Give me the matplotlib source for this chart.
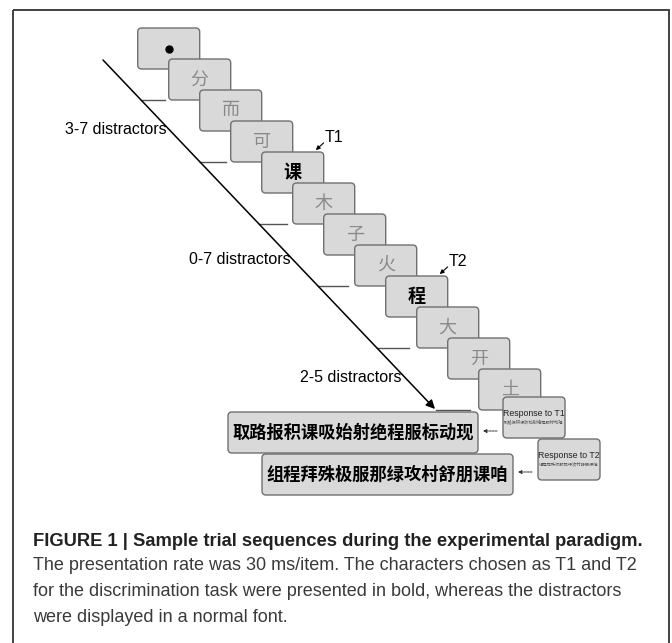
import matplotlib
matplotlib.use('Agg')
import matplotlib.pyplot as plt
from matplotlib.patches import FancyBboxPatch, Rectangle

plt.rcParams['font.family'] = ['Liberation Sans', 'Noto Sans CJK SC', 'DejaVu Sans']

# stream of stimuli shown one after the other
stim_chars = ['•', '分', '而', '可', '课', '木', '子', '火', '程', '大', '开', '土']
targets = {4: 'T1', 8: 'T2'}
distractor_labels = ['3-7 distractors', '0-7 distractors', '2-5 distractors']
response_titles = ['Response to T1', 'Response to T2']
response_lines = ['取路报积课吸始射绝程服标动现', '组程拜殊极服那绿攻村舒朋课咱']
caption_title = 'FIGURE 1 | Sample trial sequences during the experimental paradigm.'
caption_lines = ['The presentation rate was 30 ms/item. The characters chosen as T1 and T2',
                 'for the discrimination task were presented in bold, whereas the distractors',
                 'were displayed in a normal font.']

# layout (pixel units, y downwards)
W, H = 672, 643
x0, y0, step = 137.7, 28, 31
bw, bh = 62, 41
box_fc, box_ec = '#d9d9d9', '#707070'
diag_start, diag_end = (103, 60), (435, 409)
label_rows = [130, 260, 377]
small_boxes = [(503, 397), (538, 439)]
big_boxes = [(228, 412, 250), (262, 454, 251)]

fig = plt.figure(figsize=(W / 100, H / 100), dpi=100)
ax = fig.add_axes([0, 0, 1, 1])
ax.set_xlim(0, W)
ax.set_ylim(H, 0)
ax.axis('off')


def box(x, y, w, h, z):
    p = FancyBboxPatch((x, y), w, h, boxstyle='round,pad=0,rounding_size=4',
                       fc=box_fc, ec=box_ec, lw=1.0, zorder=z)
    ax.add_patch(p)


def diag_x(y):
    (xa, ya), (xb, yb) = diag_start, diag_end
    return xa + (y - ya) * (xb - xa) / (yb - ya)


# outer frame
ax.add_patch(Rectangle((13, 10), 656, 700, fill=False, ec='#333333', lw=1.3, zorder=0))

# stimulus boxes
for i, ch in enumerate(stim_chars):
    bx, by = x0 + i * step, y0 + i * step
    box(bx, by, bw, bh, 2 + i)
    cx, cy = bx + bw / 2, by + bh / 2
    if ch == '•':
        ax.plot(cx, cy, 'o', color='black', ms=5, zorder=30)
    elif i in targets:
        ax.text(cx, cy, ch, ha='center', va='center', fontsize=13, fontweight='bold',
                color='black', family=['Noto Sans CJK SC'], zorder=30)
        ax.annotate('', xy=(bx + bw - 10, by), xytext=(bx + bw + 2, by - 11),
                    arrowprops=dict(arrowstyle='-|>', lw=0.8, color='black', mutation_scale=6),
                    zorder=40)
        ax.text(bx + bw + 1, by - 15, targets[i], ha='left', va='center', fontsize=11.5)
    else:
        ax.text(cx, cy, ch, ha='center', va='center', fontsize=13, color='#8a8a8a',
                family=['Noto Sans CJK SC'], zorder=30)

# short ticks at the bottom of every second box
for i in range(1, len(stim_chars), 2):
    yb = y0 + i * step + bh
    xs = diag_x(yb)
    ax.plot([xs, xs + 24 + (i - 1)], [yb, yb], color='#555555', lw=1.0, zorder=1)

# time arrow
ax.annotate('', xy=diag_end, xytext=diag_start,
            arrowprops=dict(arrowstyle='-|>', lw=1.1, color='black', mutation_scale=13,
                            shrinkA=0, shrinkB=0))

for lab, yl in zip(distractor_labels, label_rows):
    ax.text(diag_x(yl) - 3, yl, lab, ha='right', va='center', fontsize=11.5)

# response screens
for k, ((sx, sy), (lx, ly, lw_)) in enumerate(zip(small_boxes, big_boxes)):
    box(sx, sy, bw, bh, 50 + k)
    ax.text(sx + bw / 2, sy + 16, response_titles[k], ha='center', va='center',
            fontsize=6.3, color='#222222', zorder=60)
    ax.text(sx + bw / 2, sy + 25, response_lines[k], ha='center', va='center',
            fontsize=3.1, color='#555555', family=['Noto Sans CJK SC'], zorder=60)
    box(lx, ly, lw_, bh, 45 + k)
    ax.text(lx + lw_ / 2, ly + bh / 2, response_lines[k], ha='center', va='center',
            fontsize=12.4, fontweight='bold', color='black',
            family=['Noto Sans CJK SC'], zorder=60)
    ay = sy + 34 - 1 * k
    ax.annotate('', xy=(lx + lw_ + 5, ay), xytext=(lx + lw_ + 19, ay),
                arrowprops=dict(arrowstyle='-|>', lw=0.7, ls=(0, (2, 1)), color='#333333',
                                mutation_scale=5, shrinkA=0, shrinkB=0))

# caption
ax.text(33, 541, caption_title, ha='left', va='center', fontsize=13.2,
        fontweight='bold', color='#222222')
for j, line in enumerate(caption_lines):
    ax.text(33, 566 + j * 25.5, line, ha='left', va='center', fontsize=13.0, color='#3a3a3a')

fig.savefig('out.png', dpi=100)
